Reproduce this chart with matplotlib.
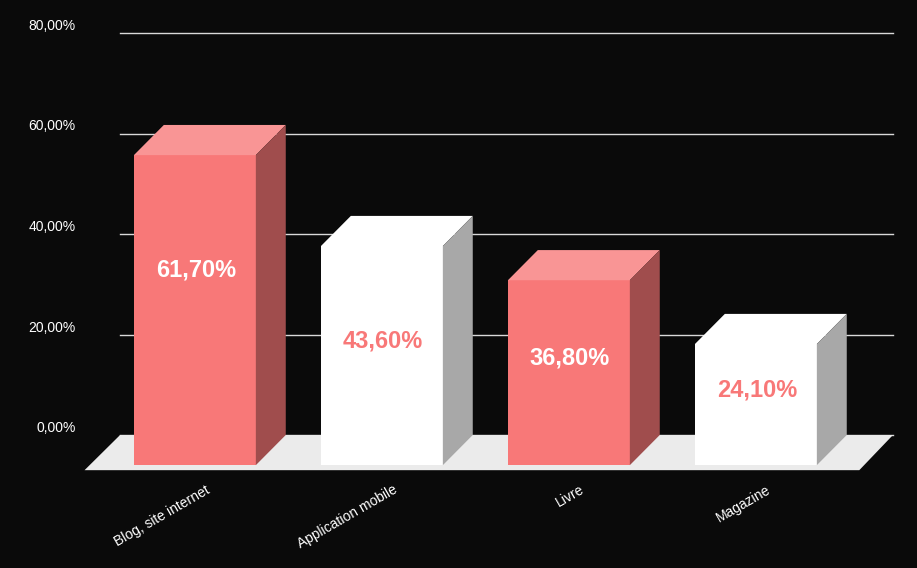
import matplotlib
matplotlib.use("Agg")
import matplotlib.pyplot as plt
from matplotlib.patches import Polygon

categories = ["Blog, site internet", "Application mobile", "Livre", "Magazine"]
values = [61.7, 43.6, 36.8, 24.1]
labels = ["61,70%", "43,60%", "36,80%", "24,10%"]
yticks = [0, 20, 40, 60, 80]
ytick_labels = ["0,00%", "20,00%", "40,00%", "60,00%", "80,00%"]

RED = dict(front="#F87878", top="#F99595", side="#A04D4D", text="white")
WHITE = dict(front="#FFFFFF", top="#FFFFFF", side="#A8A8A8", text="#F87878")
styles = [RED, WHITE, RED, WHITE]

fig = plt.figure(figsize=(9.17, 5.68), dpi=100, facecolor="#0A0A0A")
ax = fig.add_axes([0, 0, 1, 1])
ax.set_facecolor("#0A0A0A")
ax.set_xlim(-196/187, (917-196)/187)
ax.set_ylim(-133/5.025, (568-133)/5.025)
ax.axis("off")

dx, dy = 0.16, 6.0
w = 0.652
x0, x1 = -0.406, 3.727

# gridlines
for t, l in zip(yticks, ytick_labels):
    ax.plot([x0, x1], [t, t], color="#D9D9D9", lw=1, zorder=1)
    ax.text(-0.645, t, l, color="white", fontsize=10, ha="right", va="bottom",
            family="Liberation Sans")

# floor
fy = -7.0
ax.add_patch(Polygon([(x0, 0), (x1, 0), (x1 - 0.18, fy), (x0 - 0.19, fy)],
                     closed=True, facecolor="#EBEBEB", edgecolor="none", zorder=2))

for i, (v, lab, st) in enumerate(zip(values, labels, styles)):
    xl = i - w/2 - 0.006
    xr = xl + w
    yb = -dy
    yt = v - dy
    ax.add_patch(Polygon([(xl, yb), (xr, yb), (xr, yt), (xl, yt)], facecolor=st["front"], zorder=3))
    ax.add_patch(Polygon([(xl, yt), (xr, yt), (xr + dx, yt + dy), (xl + dx, yt + dy)],
                         facecolor=st["top"], zorder=3))
    ax.add_patch(Polygon([(xr, yb), (xr + dx, yb + dy), (xr + dx, yt + dy), (xr, yt)],
                         facecolor=st["side"], zorder=3))
    ax.text(i, (yb + yt)/2 + (3 if i else 8), lab, color=st["text"], fontsize=17, fontweight="bold",
            ha="center", va="center", family="Liberation Sans", zorder=4)
    ax.text(i + 0.05, -9.5, categories[i], color="white", fontsize=10, rotation=30,
            ha="right", va="top", rotation_mode="anchor", family="Liberation Sans")

fig.savefig("out.png", dpi=100, facecolor=fig.get_facecolor())
